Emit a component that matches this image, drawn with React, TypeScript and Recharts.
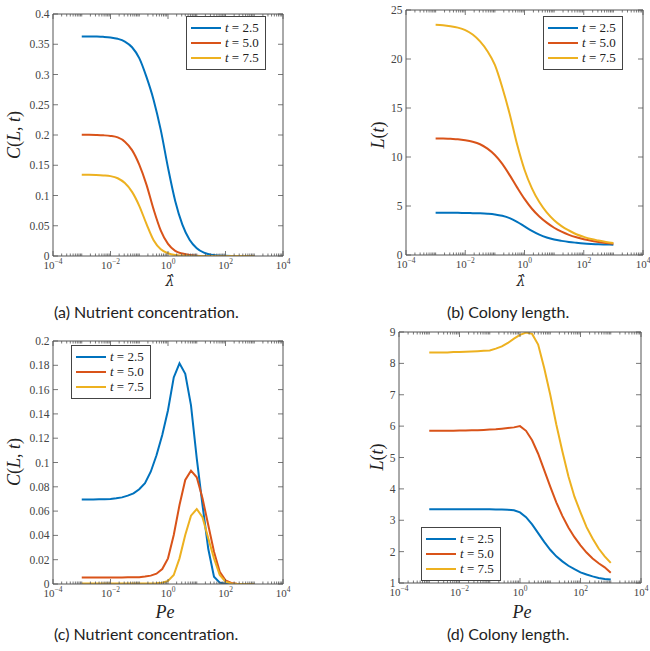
import { Legend, Line, LineChart, XAxis, YAxis } from "recharts";

// x grids (log spaced)
const X_QUARTER = [
  0.001, 0.00178, 0.00316, 0.00562, 0.01, 0.0178, 0.0316, 0.0562, 0.1, 0.178, 0.316, 0.562, 1,
  1.78, 3.16, 5.62, 10, 17.8, 31.6, 56.2, 100, 178, 316, 562, 1000,
];
const X_FIFTH = [
  0.001, 0.001585, 0.002512, 0.003981, 0.00631, 0.01, 0.01585, 0.02512, 0.03981, 0.0631, 0.1,
  0.1585, 0.2512, 0.3981, 0.631, 1, 1.585, 2.512, 3.981, 6.31, 10, 15.85, 25.12, 39.81, 63.1, 100,
  158.5, 251.2, 398.1, 631, 1000,
];

// (a) nutrient concentration vs lambda-hat
const A_T25 = [0.363, 0.363, 0.3627, 0.3622, 0.3612, 0.359, 0.3545, 0.345, 0.327, 0.296, 0.258, 0.208, 0.146, 0.091, 0.052, 0.027, 0.013, 0.0055, 0.002, 0.0008, 0.0003, 0.0001, 0, 0, 0];
const A_T50 = [0.2005, 0.2003, 0.2, 0.1995, 0.1985, 0.196, 0.189, 0.175, 0.151, 0.118, 0.077, 0.042, 0.02, 0.0085, 0.004, 0.0015, 0.0006, 0.0002, 0.0001, 0, 0, 0, 0, 0, 0];
const A_T75 = [0.1345, 0.1343, 0.1339, 0.1332, 0.132, 0.1285, 0.1205, 0.106, 0.083, 0.053, 0.026, 0.011, 0.0045, 0.0015, 0.0005, 0.0002, 0, 0, 0, 0, 0, 0, 0, 0, 0];

// (b) colony length vs lambda-hat
const B_T25 = [4.32, 4.32, 4.31, 4.3, 4.29, 4.27, 4.25, 4.21, 4.14, 4.0, 3.76, 3.38, 2.92, 2.47, 2.08, 1.79, 1.58, 1.44, 1.33, 1.25, 1.18, 1.13, 1.09, 1.07, 1.05];
const B_T50 = [11.9, 11.9, 11.85, 11.8, 11.7, 11.55, 11.3, 10.85, 10.2, 9.3, 8.15, 6.9, 5.72, 4.72, 3.93, 3.3, 2.78, 2.38, 2.06, 1.81, 1.61, 1.46, 1.33, 1.23, 1.15];
const B_T75 = [23.5, 23.45, 23.35, 23.2, 22.95, 22.5, 21.8, 20.8, 19.4, 17.1, 14.4, 11.3, 8.7, 6.8, 5.4, 4.35, 3.55, 2.95, 2.5, 2.12, 1.85, 1.63, 1.47, 1.33, 1.22];

// (c) nutrient concentration vs Pe
const C_T25 = [0.0695, 0.0695, 0.0696, 0.0697, 0.0698, 0.07, 0.0705, 0.0713, 0.0727, 0.0746, 0.078, 0.0829, 0.0924, 0.106, 0.1226, 0.143, 0.17, 0.1816, 0.173, 0.147, 0.1034, 0.065, 0.029, 0.006, 0.0011, 0.0002, 0, 0, 0, 0, 0];
const C_T50 = [0.0053, 0.0053, 0.0053, 0.0053, 0.0053, 0.0054, 0.0054, 0.0054, 0.0055, 0.0055, 0.0056, 0.0061, 0.0069, 0.0085, 0.0123, 0.0211, 0.0403, 0.065, 0.0856, 0.0933, 0.0878, 0.0705, 0.0486, 0.0266, 0.0101, 0.003, 0.0008, 0.0002, 0, 0, 0];
const C_T75 = [0.0004, 0.0004, 0.0004, 0.0004, 0.0004, 0.0004, 0.0004, 0.0004, 0.0004, 0.0004, 0.0004, 0.0005, 0.0005, 0.0007, 0.0011, 0.0025, 0.0074, 0.0211, 0.0403, 0.0562, 0.0617, 0.055, 0.0376, 0.0211, 0.0074, 0.0019, 0.0005, 0.0001, 0, 0, 0];

// (d) colony length vs Pe
const D_T25 = [3.35, 3.35, 3.35, 3.35, 3.35, 3.35, 3.35, 3.35, 3.35, 3.35, 3.35, 3.345, 3.34, 3.335, 3.32, 3.25, 3.1, 2.87, 2.59, 2.31, 2.06, 1.85, 1.69, 1.55, 1.44, 1.34, 1.27, 1.21, 1.16, 1.13, 1.11];
const D_T50 = [5.85, 5.85, 5.85, 5.85, 5.85, 5.86, 5.86, 5.87, 5.87, 5.88, 5.89, 5.9, 5.92, 5.94, 5.96, 6.0, 5.85, 5.55, 5.12, 4.6, 4.07, 3.57, 3.14, 2.77, 2.46, 2.2, 1.97, 1.78, 1.63, 1.5, 1.33];
const D_T75 = [8.35, 8.35, 8.35, 8.35, 8.36, 8.36, 8.37, 8.38, 8.39, 8.4, 8.41, 8.47, 8.54, 8.65, 8.79, 8.91, 8.98, 8.94, 8.6, 7.85, 7.0, 6.05, 5.2, 4.4, 3.75, 3.25, 2.78, 2.42, 2.1, 1.85, 1.64];

const T_LABELS = ["2.5", "5.0", "7.5"];
const COLORS = ["#0072BD", "#D95319", "#EDB120"];

const X_DOMAIN = [1e-4, 1e4];
const X_LABELED = [1e-4, 1e-2, 1, 1e2, 1e4];
const X_EXPONENTS = ["\u22124", "\u22122", "0", "2", "4"];
const Y_TICKS_A = [0, 0.05, 0.1, 0.15, 0.2, 0.25, 0.3, 0.35, 0.4];
const Y_TICKS_B = [0, 5, 10, 15, 20, 25];
const Y_TICKS_C = [0, 0.02, 0.04, 0.06, 0.08, 0.1, 0.12, 0.14, 0.16, 0.18, 0.2];
const Y_TICKS_D = [1, 2, 3, 4, 5, 6, 7, 8, 9];

const SERIF = "'Liberation Serif', 'DejaVu Serif', serif";
const SANS = "Lato, 'Open Sans', sans-serif";
const AXIS = "#555";
const TICK_TEXT = "#444";

// every decade plus the 2..9 minors in between
const X_TICKS: number[] = [];
for (let d = -4; d <= 4; d++) {
  X_TICKS.push(10 ** d);
  if (d < 4) for (let m = 2; m <= 9; m++) X_TICKS.push(m * 10 ** d);
}

function labeledIndex(v: number) {
  return X_LABELED.findIndex((t) => Math.abs(v - t) < t * 1e-6);
}

function XTick(props: any) {
  const { x, y, payload, side } = props;
  const idx = labeledIndex(payload.value);
  const len = idx >= 0 ? 5 : 2.5;
  const dir = side === "bottom" ? -1 : 1;
  return (
    <g>
      <line x1={x} x2={x} y1={y} y2={y + dir * len} stroke={AXIS} strokeWidth={0.8} />
      {side === "bottom" && idx >= 0 && (
        <text x={x} y={y + 13} textAnchor="middle" fontFamily={SERIF} fontSize={11} fill={TICK_TEXT}>
          <tspan>10</tspan>
          <tspan dy={-5} fontSize={7.5}>
            {X_EXPONENTS[idx]}
          </tspan>
        </text>
      )}
    </g>
  );
}

function YTick(props: any) {
  const { x, y, payload, side } = props;
  const dir = side === "left" ? 1 : -1;
  return (
    <g>
      <line x1={x} x2={x + dir * 5} y1={y} y2={y} stroke={AXIS} strokeWidth={0.8} />
      {side === "left" && (
        <text x={x - 3.5} y={y} dy="0.35em" textAnchor="end" fontFamily={SERIF} fontSize={11.5} fill={TICK_TEXT}>
          {String(payload.value)}
        </text>
      )}
    </g>
  );
}

function LegendBox({ payload }: any) {
  return (
    <div
      style={{
        border: "1px solid #444",
        background: "#fff",
        padding: "3px 0 3px 4px",
        width: 74,
        boxSizing: "content-box",
      }}
    >
      {(payload || []).map((p: any) => (
        <div key={p.value} style={{ display: "flex", alignItems: "center", height: 15.3 }}>
          <svg width={30} height={4}>
            <line x1={0} x2={30} y1={2} y2={2} stroke={p.color} strokeWidth={2} />
          </svg>
          <span style={{ marginLeft: 4, fontFamily: SERIF, fontSize: 13, color: "#222", whiteSpace: "nowrap" }}>
            <i>t</i> = {p.value}
          </span>
        </div>
      ))}
    </div>
  );
}

type Box = { x1: number; y1: number; x2: number; y2: number };

function Panel(props: {
  box: Box;
  xs: number[];
  series: number[][];
  yDomain: number[];
  yTicks: number[];
  curve: "monotone" | "linear";
  legend: { x: number; y: number };
}) {
  const { box, xs, series, yDomain, yTicks, curve, legend } = props;
  const cx = box.x1 - 50;
  const cy = box.y1 - 8;
  const cw = box.x2 + 8 - cx;
  const ch = box.y2 + 22 - cy;
  const rows = xs.map((x, i) => {
    const r: Record<string, number> = { x };
    series.forEach((s, k) => (r["s" + k] = s[i]));
    return r;
  });
  const common = {
    stroke: AXIS,
    tickSize: 0,
    tickMargin: 0,
    tickLine: false,
    interval: 0 as const,
    allowDataOverflow: true,
    type: "number" as const,
  };
  return (
    <div style={{ position: "absolute", left: cx, top: cy }}>
      <LineChart
        width={cw}
        height={ch}
        data={rows}
        margin={{ top: box.y1 - cy - 1, right: cx + cw - box.x2 - 1, bottom: 0, left: 0 }}
      >
        <XAxis {...common} dataKey="x" scale="log" domain={X_DOMAIN} ticks={X_TICKS} height={22} tick={<XTick side="bottom" />} />
        <XAxis
          {...common}
          xAxisId="top"
          orientation="top"
          dataKey="x"
          scale="log"
          domain={X_DOMAIN}
          ticks={X_TICKS}
          height={1}
          tick={<XTick side="top" />}
        />
        <YAxis {...common} domain={yDomain} ticks={yTicks} width={50} tick={<YTick side="left" />} />
        <YAxis
          {...common}
          yAxisId="right"
          orientation="right"
          domain={yDomain}
          ticks={yTicks}
          width={1}
          tick={<YTick side="right" />}
        />
        <Legend
          layout="horizontal"
          verticalAlign="middle"
          align="center"
          wrapperStyle={{ left: legend.x - cx, top: legend.y - cy, width: 80 }}
          content={<LegendBox />}
        />
        {series.map((_, k) => (
          <Line
            key={k}
            dataKey={"s" + k}
            name={T_LABELS[k]}
            type={curve}
            stroke={COLORS[k]}
            strokeWidth={2}
            dot={false}
            isAnimationActive={false}
          />
        ))}
      </LineChart>
    </div>
  );
}

function Text({ x, y, rotate, children, font, size, left }: any) {
  return (
    <div
      style={{
        position: "absolute",
        left: x,
        top: y,
        transform: `translate(${left ? "0" : "-50%"}, -50%)${rotate ? " rotate(-90deg)" : ""}`,
        fontFamily: font,
        fontSize: size,
        color: "#222",
        whiteSpace: "nowrap",
        lineHeight: 1,
      }}
    >
      {children}
    </div>
  );
}

const CL = (
  <span>
    <i>C</i>(<i>L</i>, <i>t</i>)
  </span>
);
const LT = (
  <span>
    <i>L</i>(<i>t</i>)
  </span>
);
// lambda with a combining circumflex; DejaVu Serif places the mark over the letter
const LAMBDA = <i style={{ fontFamily: "'DejaVu Serif', serif" }}>{"\u03bb\u0302"}</i>;
const PE = <i>Pe</i>;

export default function App() {
  return (
    <div style={{ position: "absolute", left: 0, top: 0, width: 650, height: 651, background: "#fff", overflow: "hidden" }}>
      <Panel
        box={{ x1: 53.3, y1: 14, x2: 283.3, y2: 256 }}
        xs={X_QUARTER}
        series={[A_T25, A_T50, A_T75]}
        yDomain={[0, 0.4]}
        yTicks={Y_TICKS_A}
        curve="monotone"
        legend={{ x: 186, y: 16 }}
      />
      <Panel
        box={{ x1: 406, y1: 10, x2: 643, y2: 255 }}
        xs={X_QUARTER}
        series={[B_T25, B_T50, B_T75]}
        yDomain={[0, 25]}
        yTicks={Y_TICKS_B}
        curve="monotone"
        legend={{ x: 543, y: 16 }}
      />
      <Panel
        box={{ x1: 53.3, y1: 341, x2: 283.3, y2: 584 }}
        xs={X_FIFTH}
        series={[C_T25, C_T50, C_T75]}
        yDomain={[0, 0.2]}
        yTicks={Y_TICKS_C}
        curve="linear"
        legend={{ x: 71, y: 345 }}
      />
      <Panel
        box={{ x1: 399, y1: 332, x2: 641, y2: 583 }}
        xs={X_FIFTH}
        series={[D_T25, D_T50, D_T75]}
        yDomain={[1, 9]}
        yTicks={Y_TICKS_D}
        curve="linear"
        legend={{ x: 421, y: 527 }}
      />

      <Text x={14} y={135} rotate font={SERIF} size={18}>{CL}</Text>
      <Text x={378} y={135} rotate font={SERIF} size={18}>{LT}</Text>
      <Text x={14} y={462} rotate font={SERIF} size={18}>{CL}</Text>
      <Text x={377} y={457} rotate font={SERIF} size={18}>{LT}</Text>

      <Text x={170} y={281} font={SERIF} size={14}>{LAMBDA}</Text>
      <Text x={521} y={281} font={SERIF} size={14}>{LAMBDA}</Text>
      <Text x={165} y={612} font={SERIF} size={18}>{PE}</Text>
      <Text x={522} y={612} font={SERIF} size={18}>{PE}</Text>

      <Text x={54} y={312} left font={SANS} size={16}>(a) Nutrient concentration.</Text>
      <Text x={447} y={312} left font={SANS} size={16}>(b) Colony length.</Text>
      <Text x={54} y={634} left font={SANS} size={16}>(c) Nutrient concentration.</Text>
      <Text x={447} y={634} left font={SANS} size={16}>(d) Colony length.</Text>
    </div>
  );
}
